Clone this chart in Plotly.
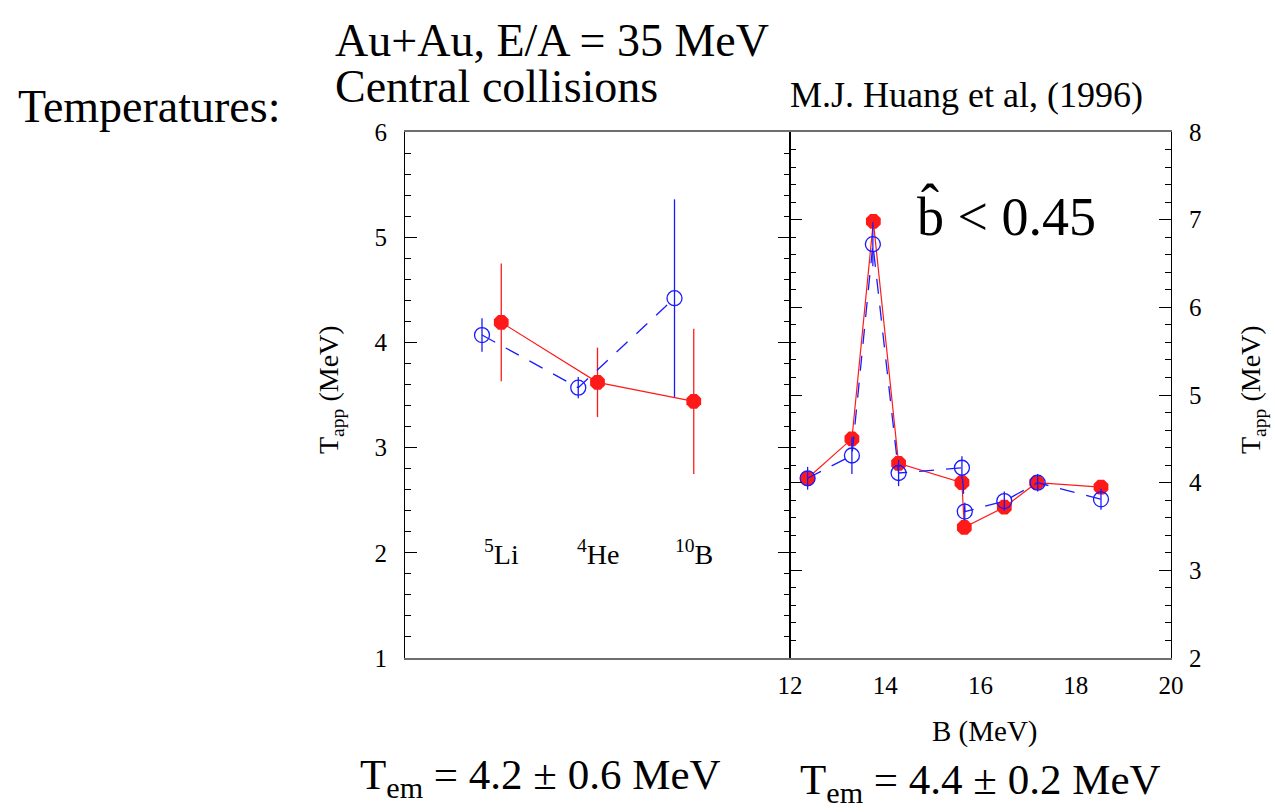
import plotly.graph_objects as go

W, H = 1275, 812

# ---------------- data ----------------
# Left panel: isotope thermometers
iso_labels = ["<sup>5</sup>Li", "<sup>4</sup>He", "<sup>10</sup>B"]
iso_pos_red = [1, 2, 3]
iso_pos_blue = [0.8, 1.8, 2.8]
iso_T_red = [4.19, 3.62, 3.44]
iso_err_red = [0.56, 0.33, 0.69]
iso_T_blue = [4.07, 3.57, 4.42]
iso_err_blue = [0.16, 0.10, 0.94]

# Right panel: T_app vs B
B_red = [12.37, 13.30, 13.75, 14.28, 15.61, 15.66, 16.50, 17.18, 18.53]
T_red = [4.05, 4.50, 6.98, 4.22, 4.00, 3.49, 3.72, 4.00, 3.95]
err_red = [0.08, 0.06, 0.05, 0.06, 0.06, 0.05, 0.05, 0.06, 0.08]
B_blue = [12.37, 13.30, 13.74, 14.28, 15.61, 15.67, 16.50, 17.20, 18.53]
T_blue = [4.05, 4.31, 6.72, 4.11, 4.17, 3.67, 3.79, 4.00, 3.81]
err_blue = [0.13, 0.21, 0.25, 0.15, 0.13, 0.10, 0.11, 0.10, 0.12]

left_yticks = [1, 2, 3, 4, 5, 6]
right_yticks = [2, 3, 4, 5, 6, 7, 8]
right_xticks = [12, 14, 16, 18, 20]

RED = "#ff1a1a"
BLUE = "#1a1aff"
SERIF = "Liberation Serif"

# ---------------- geometry ----------------
def px(x):
    return x / W

def py(y):
    return 1 - y / H

L0, L1, R1 = 405, 790, 1171
TOP, BOT = 132, 658

fig = go.Figure()

# left panel traces
fig.add_trace(go.Scatter(
    x=iso_pos_red, y=iso_T_red, mode="lines+markers",
    line=dict(color=RED, width=1.2),
    marker=dict(symbol="octagon", size=16, color=RED, line=dict(width=0)),
    error_y=dict(type="data", array=iso_err_red, color=RED, thickness=1.3, width=0),
    xaxis="x", yaxis="y", showlegend=False))
fig.add_trace(go.Scatter(
    x=iso_pos_blue, y=iso_T_blue, mode="lines+markers",
    line=dict(color=BLUE, width=1.3, dash="15px,12px"),
    marker=dict(symbol="circle-open", size=15, color=BLUE, line=dict(width=1.3, color=BLUE)),
    error_y=dict(type="data", array=iso_err_blue, color=BLUE, thickness=1.3, width=0),
    xaxis="x", yaxis="y", showlegend=False))

# right panel traces
fig.add_trace(go.Scatter(
    x=B_red, y=T_red, mode="lines+markers",
    line=dict(color=RED, width=1.2),
    marker=dict(symbol="octagon", size=16, color=RED, line=dict(width=0)),
    error_y=dict(type="data", array=err_red, color=RED, thickness=1.3, width=0),
    xaxis="x2", yaxis="y2", showlegend=False))
fig.add_trace(go.Scatter(
    x=B_blue, y=T_blue, mode="lines+markers",
    line=dict(color=BLUE, width=1.3, dash="15px,12px"),
    marker=dict(symbol="circle-open", size=15, color=BLUE, line=dict(width=1.3, color=BLUE)),
    error_y=dict(type="data", array=err_blue, color=BLUE, thickness=1.3, width=0),
    xaxis="x2", yaxis="y2", showlegend=False))

xline = dict(showline=True, linecolor="#6e6e6e", linewidth=2, mirror=True,
             showgrid=False, zeroline=False, automargin=False)
yline = dict(showline=True, linecolor="black", linewidth=1, mirror="ticks",
             showgrid=False, zeroline=False, automargin=False,
             ticks="inside", ticklen=12, tickwidth=1, tickcolor="black",
             minor=dict(ticks="inside", ticklen=6, dtick=0.2, tickwidth=1,
                        tickcolor="black", showgrid=False),
             tickfont=dict(family=SERIF, size=25, color="black"))

fig.update_layout(
    template="none",
    width=W, height=H, autosize=False,
    margin=dict(l=0, r=0, t=0, b=0, pad=0, autoexpand=False),
    paper_bgcolor="white", plot_bgcolor="white",
    xaxis=dict(domain=[px(L0), px(L1)], range=[0, 4], anchor="y",
               showticklabels=False, ticks="", **xline),
    yaxis=dict(domain=[py(BOT), py(TOP)], range=[1, 6], anchor="x",
               tickvals=left_yticks, ticklabelstandoff=12, **yline),
    xaxis2=dict(domain=[px(L1), px(R1)], range=[12, 20], anchor="y2",
                tickvals=right_xticks, ticks="", ticklabelstandoff=4,
                tickfont=dict(family=SERIF, size=25, color="black"), **xline),
    yaxis2=dict(domain=[py(BOT), py(TOP)], range=[2, 8], anchor="x2",
                side="right", tickvals=right_yticks, ticklabelstandoff=12, **yline),
)

ann = []
# isotope labels inside left panel
for lab, xp in zip(iso_labels, iso_pos_red):
    ann.append(dict(x=xp, y=2.0, xref="x", yref="y", text=lab, showarrow=False,
                    font=dict(family=SERIF, size=28, color="black"),
                    xanchor="center", yanchor="middle"))

def txt(text, x, y, size, xanchor="left", yanchor="middle", angle=0):
    ann.append(dict(x=px(x), y=py(y), xref="paper", yref="paper", text=text,
                    showarrow=False, textangle=angle,
                    font=dict(family=SERIF, size=size, color="black"),
                    xanchor=xanchor, yanchor=yanchor))

txt("Temperatures:", 16, 106, 46)
txt("Au+Au, E/A = 35 MeV", 333, 41, 46)
txt("Central collisions", 333, 86, 46)
txt("M.J. Huang et al, (1996)", 788, 95, 36)
txt("b\u0302 &lt; 0.45", 915, 215, 54)
txt("T<sub>app</sub> (MeV)", 330, 390, 28, xanchor="center", angle=-90)
txt("T<sub>app</sub> (MeV)", 1252, 390, 28, xanchor="center", angle=-90)
txt("B\u00a0(MeV)", 985, 731, 29, xanchor="center")
txt("T<sub>em</sub> = 4.2 ± 0.6 MeV", 358, 778, 43)
txt("T<sub>em</sub> = 4.4 ± 0.2 MeV", 798, 783, 43)

fig.update_layout(annotations=ann)
fig.write_html(
    "out.html",
    post_script="document.body.style.margin='0';document.body.style.overflow='hidden';",
)
